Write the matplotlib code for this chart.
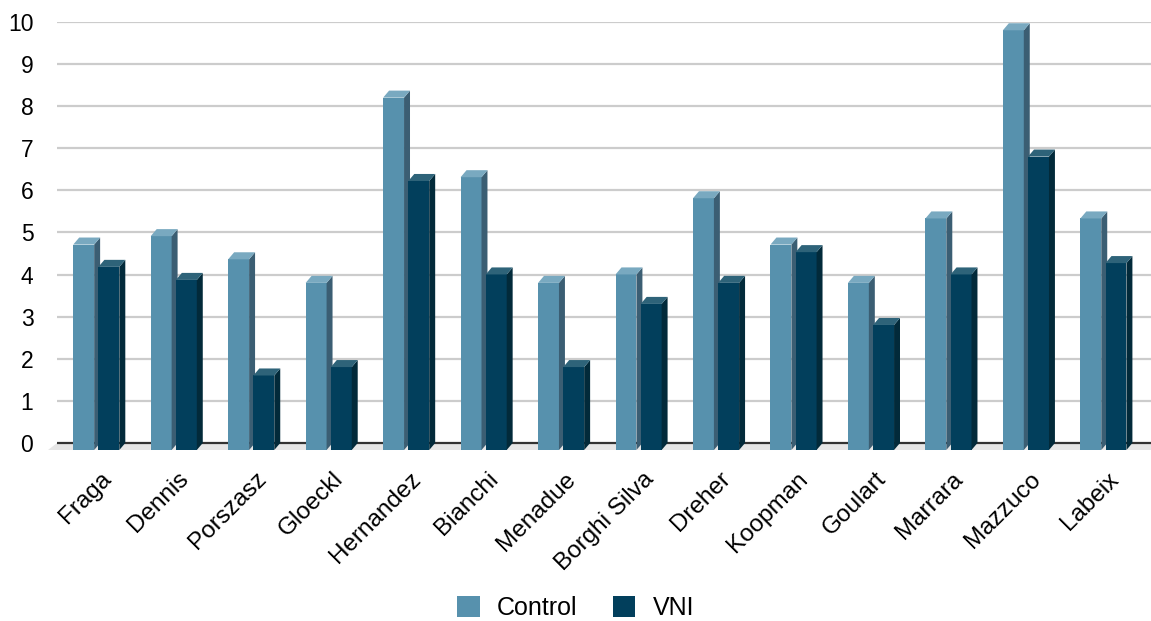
import numpy as np
import matplotlib
matplotlib.use('Agg')
from matplotlib import pyplot as plt, rcParams
from matplotlib.patches import Polygon, Patch

rcParams['font.family'] = ['Liberation Sans', 'DejaVu Sans']

studies = ['Fraga', 'Dennis', 'Porszasz', 'Gloeckl', 'Hernandez', 'Bianchi',
           'Menadue', 'Borghi Silva', 'Dreher', 'Koopman', 'Goulart',
           'Marrara', 'Mazzuco', 'Labeix']
control = [4.88, 5.08, 4.53, 3.97, 8.37, 6.48, 3.97, 4.17, 5.98, 4.88, 3.97,
           5.5, 9.97, 5.5]
vni = [4.35, 4.04, 1.77, 1.97, 6.39, 4.17, 1.97, 3.47, 3.97, 4.7, 2.97,
       4.17, 6.97, 4.44]
series_names = ['Control', 'VNI']
yticks = list(range(0, 11))

# front / side / top shades for each series
shades = {
    'Control': ('#5791ad', '#3b5e73', '#79a9c0'),
    'VNI': ('#023f5c', '#022a3a', '#2e6379'),
}

W = 0.27      # bar width (group units)
DX = 0.077    # depth, x
DY = 0.167    # depth, y
offsets = [-0.325, 0.0]


def bar3d(ax, x0, v, cols):
    front, side, top = cols
    ax.bar(x0, v, width=W, bottom=-DY, align='edge', color=front,
           linewidth=0, zorder=3)
    ax.add_patch(Polygon([(x0 + W, -DY), (x0 + W + DX, 0),
                          (x0 + W + DX, v), (x0 + W, v - DY)],
                         closed=True, facecolor=side, linewidth=0,
                         zorder=3, clip_on=False))
    ax.add_patch(Polygon([(x0, v - DY), (x0 + W, v - DY),
                          (x0 + W + DX, v), (x0 + DX, v)],
                         closed=True, facecolor=top, linewidth=0,
                         zorder=3, clip_on=False))


fig = plt.figure(figsize=(11.51, 6.21), dpi=100)
ax = fig.add_axes([0.0495, 0.2731, 0.9505, 0.6915])

ind = np.arange(len(studies))
for name, vals, off in zip(series_names, [control, vni], offsets):
    for i, v in zip(ind, vals):
        bar3d(ax, i + off, v, shades[name])

xl, xr = -0.535, 13.587
# floor
ax.add_patch(Polygon([(xl, 0), (xr, 0), (xr, -DY), (xl - 0.12, -DY)],
                     closed=True, facecolor='#e6e6e6', linewidth=0,
                     zorder=1, clip_on=False))
for t in yticks[1:]:
    ax.axhline(t, color='#cccccc', linewidth=1.6, zorder=0)
ax.axhline(0, color='#333333', linewidth=1.6, zorder=2)

ax.set_xlim(xl, xr)
ax.set_ylim(-0.2, 10)
ax.set_yticks(yticks)
ax.set_yticklabels([str(t) for t in yticks], fontsize=16.5)
ax.tick_params(axis='y', length=0, pad=17)
for lab in ax.get_yticklabels():
    lab.set_horizontalalignment('right')
ax.set_xticks(ind + 0.02)
ax.set_xticklabels(studies, fontsize=17.5, rotation=45, ha='right',
                   va='top', rotation_mode='anchor')
ax.tick_params(axis='x', length=0, pad=12)
for s in ax.spines.values():
    s.set_visible(False)

handles = [Patch(facecolor=shades[n][0], edgecolor='none') for n in series_names]
fig.legend(handles, series_names, loc='lower center',
           bbox_to_anchor=(0.5, -0.035), ncol=2, frameon=False,
           fontsize=18, handlelength=0.9, handleheight=0.9,
           handletextpad=0.7, columnspacing=1.4)

plt.savefig('out.png', dpi=100)
